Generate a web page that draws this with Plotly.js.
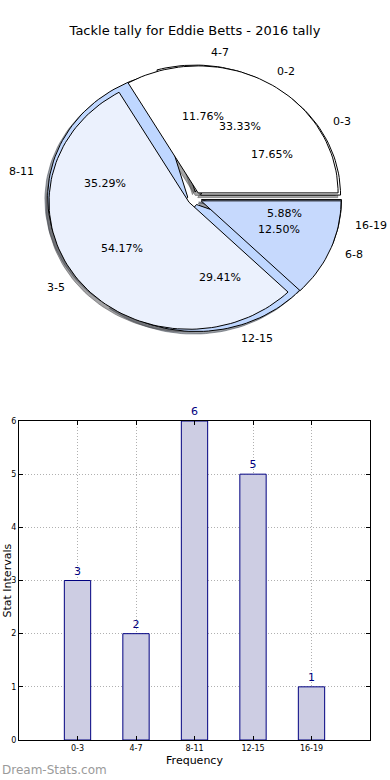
<!DOCTYPE html>
<html><head><meta charset="utf-8">
<script src="https://cdn.plot.ly/plotly-3.0.1.min.js"></script>
<style>body{margin:0;background:#fff}#chart{width:390px;height:780px}</style>
</head><body><div id="chart"></div>
<script>
const titleText = 'Tackle tally for Eddie Betts - 2016 tally';
// first (underlying) pie
const pieALabels = ['0-3', '4-7', '8-11', '12-15', '16-19'];
const pieAValues = [3, 2, 6, 5, 1];
const pieAColors = ['#ffffff', '#ffffff', '#bfd7ff', '#bfd7ff', '#c6d9fd'];
// second (top) pie
const pieBLabels = ['0-2', '3-5', '6-8'];
const pieBValues = [8, 13, 3];
const pieBColors = ['#ffffff', '#ebf1fd', '#c6d9fd'];
// bar chart
const barCategories = ['0-3', '4-7', '8-11', '12-15', '16-19'];
const barValues = [3, 2, 6, 5, 1];
const yTicks = [0, 1, 2, 3, 4, 5, 6];

const explode = 0.05, labelDist = 1.1, pctDist = 0.6, shadowOff = -0.02;
const FONT = 'DejaVu Sans, Liberation Sans, sans-serif';

function hexToRgb(h){ return [parseInt(h.slice(1,3),16), parseInt(h.slice(3,5),16), parseInt(h.slice(5,7),16)]; }

function buildPie(values, labels, colors){
  const total = values.reduce((a,b)=>a+b,0);
  let start = 0;
  return values.map((v,i)=>{
    const t1 = start, t2 = start + 360*v/total; start = t2;
    const mid = (t1+t2)/2*Math.PI/180;
    const ox = explode*Math.cos(mid), oy = explode*Math.sin(mid);
    const xs = [ox], ys = [oy];
    const n = Math.max(8, Math.ceil((t2-t1)/2));
    for(let k=0;k<=n;k++){
      const t = (t1 + (t2-t1)*k/n)*Math.PI/180;
      xs.push(ox+Math.cos(t)); ys.push(oy+Math.sin(t));
    }
    xs.push(ox); ys.push(oy);
    return {xs, ys, mid, ox, oy, pct: (100*v/total).toFixed(2)+'%', label: labels[i], color: colors[i]};
  });
}

const A = buildPie(pieAValues, pieALabels, pieAColors);
const B = buildPie(pieBValues, pieBLabels, pieBColors);

const traces = [];
function shadowTrace(w){
  const c = hexToRgb(w.color).map(x=>Math.round(x*0.3));
  const col = 'rgba('+c[0]+','+c[1]+','+c[2]+',0.5)';
  return {type:'scatter', mode:'lines', x:w.xs.map(x=>x+shadowOff), y:w.ys.map(y=>y+shadowOff),
    fill:'toself', fillcolor:col, line:{color:col, width:1}, hoverinfo:'skip', xaxis:'x', yaxis:'y'};
}
function wedgeTrace(w){
  return {type:'scatter', mode:'lines', x:w.xs, y:w.ys, fill:'toself', fillcolor:w.color,
    line:{color:'#000000', width:1}, hoverinfo:'skip', xaxis:'x', yaxis:'y'};
}
A.forEach(w=>traces.push(shadowTrace(w)));
B.forEach(w=>traces.push(shadowTrace(w)));
A.forEach(w=>traces.push(wedgeTrace(w)));
B.forEach(w=>traces.push(wedgeTrace(w)));

traces.push({type:'bar', x:barCategories, y:barValues, width:0.45, xaxis:'x2', yaxis:'y2',
  marker:{color:'#cdcde3', line:{color:'#000080', width:1}},
  text:barValues.map(String), textposition:'outside', cliponaxis:false,
  textfont:{family:FONT, size:11, color:'#000080'}, hoverinfo:'skip'});

const annotations = [];
[...A, ...B].forEach(w=>{
  annotations.push({xref:'x', yref:'y', x:w.ox+pctDist*Math.cos(w.mid), y:w.oy+pctDist*Math.sin(w.mid),
    text:w.pct, showarrow:false, xanchor:'center', yanchor:'middle', font:{family:FONT, size:11, color:'#000'}});
  const lx = w.ox+labelDist*Math.cos(w.mid), ly = w.oy+labelDist*Math.sin(w.mid);
  annotations.push({xref:'x', yref:'y', x:lx, y:ly, text:w.label, showarrow:false,
    xanchor: lx>0 ? 'left' : 'right', yanchor:'middle', font:{family:FONT, size:11, color:'#000'}});
});
annotations.push({xref:'paper', yref:'paper', x:6.5/390, y:(780-581)/780, text:'Stat Intervals', textangle:-90,
  showarrow:false, xanchor:'center', yanchor:'middle', font:{family:FONT, size:11, color:'#000'}});
annotations.push({xref:'paper', yref:'paper', x:0, y:(780-770)/780, text:'Dream-Stats.com',
  showarrow:false, xanchor:'left', yanchor:'middle', font:{family:FONT, size:12, color:'#9a9a9a'}});

const layout = {
  width:390, height:780, margin:{l:0, r:0, t:0, b:0}, showlegend:false,
  paper_bgcolor:'#fff', plot_bgcolor:'rgba(0,0,0,0)',
  title:{text:titleText, font:{family:FONT, size:13, color:'#000'}, x:0.5, xanchor:'center', y:(780-30)/780, yanchor:'middle'},
  xaxis:{domain:[19.6/390, 369.6/390], range:[-1.25,1.25], visible:false, fixedrange:true},
  yaxis:{domain:[(780-357.15)/780, (780-39.65)/780], range:[-1.25,1.25], visible:false, fixedrange:true},
  xaxis2:{domain:[19/390, 370/390], anchor:'y2', type:'category', range:[-1,5],
    showline:true, linecolor:'#000', linewidth:1, mirror:'allticks', ticks:'inside', ticklen:4, tickcolor:'#000',
    showgrid:true, gridcolor:'#b0b0b0', griddash:'1px,2px', gridwidth:1, layer:'above traces',
    tickfont:{family:FONT, size:8, color:'#000'},
    title:{text:'Frequency', font:{family:FONT, size:11, color:'#000'}, standoff:4}},
  yaxis2:{domain:[40/780, 359/780], anchor:'x2', range:[0,6], tickvals:yTicks,
    showline:true, linecolor:'#000', linewidth:1, mirror:'allticks', ticks:'inside', ticklen:4, tickcolor:'#000',
    showgrid:true, gridcolor:'#b0b0b0', griddash:'1px,2px', gridwidth:1, layer:'above traces', zeroline:false,
    tickfont:{family:FONT, size:8, color:'#000'}},
  annotations
};
Plotly.newPlot('chart', traces, layout, {staticPlot:true, displayModeBar:false});
</script></body></html>
